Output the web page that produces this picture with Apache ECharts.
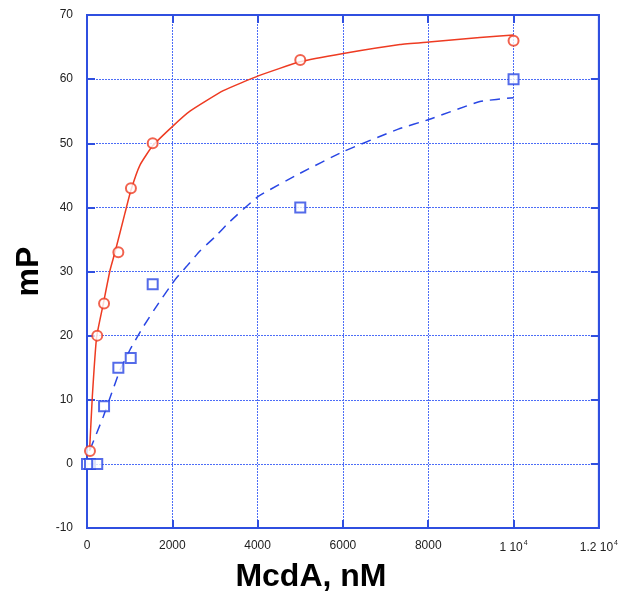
<!DOCTYPE html>
<html>
<head>
    <meta http-equiv="Content-Type" content="text/html; charset=utf-8">
    <title>mP vs McdA</title>
    <script src="https://cdn.jsdelivr.net/npm/echarts@6/dist/echarts.min.js"></script>
    <style>
        body {margin:0; background:#fff;}
    </style>
</head>
<body>
    <div id="main" style="width: 621px;height:599px;"></div>
    <script type="text/javascript">
        // measured points (x = McdA nM, y = mP)
        var redX = [70, 240, 400, 735, 1030, 1540, 5000, 10000];
        var redY = [2, 20, 25, 33, 43, 50, 63, 66];
        var blueX = [0, 70, 240, 400, 735, 1025, 1540, 5000, 10000];
        var blueY = [0, 0, 0, 9, 15, 16.5, 28, 40, 60];

        // fitted curves
        var redFitX = [60, 125, 226, 383, 540, 656, 890, 1031, 1242, 1539, 2000, 2414, 3195, 4015, 4992, 6008, 7336, 8015, 9211, 10000];
        var redFitY = [2, 10.5, 19.8, 25, 30.2, 33, 39.1, 42.7, 46.6, 49.6, 52.6, 55.0, 58.2, 60.5, 62.7, 64.0, 65.4, 65.8, 66.5, 66.9];
        var blueFitX = [70, 383, 773, 1008, 1320, 1672, 2062, 2336, 2648, 3000, 3351, 4015, 4992, 6008, 7297, 8015, 9211, 10000];
        var blueFitY = [2.2, 7.4, 14.6, 17.8, 21.4, 25, 28.7, 30.8, 33.2, 35.4, 37.8, 41.7, 45.3, 48.7, 52.2, 53.7, 56.5, 57.1];

        var xTicks = {10000: '1 10{sup|4}', 12000: '1.2 10{sup|4}'};

        function pairs(xs, ys) {
            return xs.map(function (x, i) { return [x, ys[i]]; });
        }

        var frame = '#2f4fe0';
        var dots = '#4d6df7';
        var red = '#ee3b22';
        var blue = '#2946e4';
        var labelStyle = {color: '#222', fontSize: 12, fontFamily: 'Liberation Sans'};

        var myChart = echarts.init(document.getElementById('main'));
        var option = {
            animation: false,
            grid: {left: 87, right: 22, top: 15, bottom: 71, show: true, borderColor: frame, borderWidth: 2},
            xAxis: [{
                type: 'value', min: 0, max: 12000, interval: 2000,
                name: 'McdA, nM', nameLocation: 'middle', nameGap: 33,
                nameTextStyle: {fontSize: 32, fontWeight: 'bold', color: '#000', fontFamily: 'Liberation Sans', padding: [0, 64, 0, 0]},
                axisLine: {onZero: false, lineStyle: {color: frame, width: 2}},
                axisTick: {inside: true, length: 8, lineStyle: {color: frame, width: 2}},
                axisLabel: Object.assign({margin: 12, formatter: function (v) { return xTicks[v] || String(v); },
                    rich: {sup: {fontSize: 7, verticalAlign: 'top', color: '#222', padding: [0, 0, 8, 1]}}}, labelStyle),
                splitLine: {show: true, lineStyle: {color: dots, width: 1, type: [2, 1]}}
            }, {
                type: 'value', position: 'top', min: 0, max: 12000, interval: 2000,
                axisLine: {onZero: false, lineStyle: {color: frame, width: 2}},
                axisTick: {inside: true, length: 8, lineStyle: {color: frame, width: 2}},
                axisLabel: {show: false}, splitLine: {show: false}
            }],
            yAxis: [{
                type: 'value', min: -10, max: 70, interval: 10,
                name: 'mP', nameLocation: 'middle', nameGap: 41, nameRotate: 90,
                nameTextStyle: {fontSize: 32, fontWeight: 'bold', color: '#000', fontFamily: 'Liberation Sans'},
                axisLine: {onZero: false, lineStyle: {color: frame, width: 2}},
                axisTick: {inside: true, length: 8, lineStyle: {color: frame, width: 2}},
                axisLabel: Object.assign({margin: 14}, labelStyle),
                splitLine: {show: true, lineStyle: {color: dots, width: 1, type: [2, 1]}}
            }, {
                type: 'value', position: 'right', min: -10, max: 70, interval: 10,
                axisLine: {onZero: false, lineStyle: {color: frame, width: 2}},
                axisTick: {inside: true, length: 8, lineStyle: {color: frame, width: 2}},
                axisLabel: {show: false}, splitLine: {show: false}
            }],
            series: [{
                name: 'fit red', type: 'line', data: pairs(redFitX, redFitY), smooth: 0.15,
                showSymbol: false, lineStyle: {color: red, width: 1.5}, z: 2
            }, {
                name: 'fit blue', type: 'line', data: pairs(blueFitX, blueFitY), smooth: 0.15,
                showSymbol: false, lineStyle: {color: blue, width: 1.5, type: [10, 7]}, z: 2
            }, {
                name: 'red', type: 'scatter', data: pairs(redX, redY),
                symbol: 'emptyCircle', symbolSize: 10, itemStyle: {color: red, borderColor: red, borderWidth: 1.2}, z: 3
            }, {
                name: 'blue', type: 'scatter', data: pairs(blueX, blueY),
                symbol: 'emptyRect', symbolSize: 10, itemStyle: {color: blue, borderColor: blue, borderWidth: 1.5}, z: 3
            }]
        };
        myChart.setOption(option);
    </script>
</body>
</html>
